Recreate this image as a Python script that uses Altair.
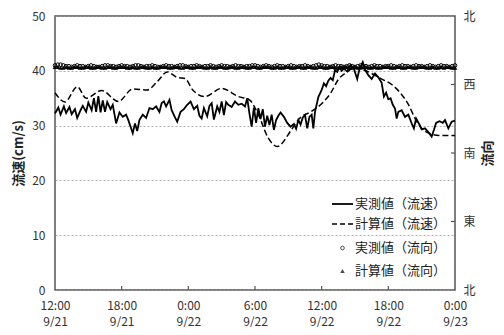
import json
import altair as alt
import pandas as pd

# ---------------- data ----------------
meas_hours = [0.0, 0.3, 0.5, 0.8, 1.0, 1.3, 1.5, 1.8, 2.0, 2.3, 2.5, 2.8, 3.0, 3.3, 3.5, 3.7, 3.9, 4.1, 4.3, 4.5,
              4.7, 5.0, 5.2, 5.5, 5.8, 6.1, 6.4, 6.6, 6.8, 7.0, 7.2, 7.4, 7.6, 7.9, 8.2, 8.5, 8.8, 9.1, 9.4, 9.6,
              9.8, 10.0, 10.3, 10.5, 10.8, 11.0, 11.3, 11.6, 11.9, 12.2, 12.5, 12.8, 13.0, 13.2, 13.4, 13.7, 13.9,
              14.1, 14.3, 14.6, 14.8, 15.0, 15.2, 15.4, 15.6, 15.9, 16.2, 16.5, 16.8, 17.1, 17.3, 17.5, 17.7, 17.9,
              18.1, 18.3, 18.5, 18.7, 18.9, 19.1, 19.3, 19.5, 19.7, 19.9, 20.1, 20.3, 20.6, 20.9, 21.2, 21.5, 21.7,
              21.9, 22.1, 22.3, 22.5, 22.7, 22.9, 23.1, 23.25, 23.4, 23.7, 24.0, 24.2, 24.4, 24.6, 24.8, 25.0, 25.2,
              25.4, 25.6, 25.8, 26.0, 26.3, 26.6, 26.9, 27.2, 27.4, 27.7, 27.9, 28.2, 28.5, 28.8, 29.1, 29.4, 29.6,
              29.8, 30.0, 30.2, 30.4, 30.6, 30.75, 30.9, 31.2, 31.5, 31.8, 32.1, 32.3, 32.5, 32.8, 33.0, 33.3, 33.6,
              33.9, 34.1, 34.3, 34.6, 34.9, 35.1, 35.4, 35.7, 36.0]
meas_speed = [32.2, 33.3, 32.0, 33.5, 32.3, 33.4, 32.1, 33.0, 31.4, 32.8, 33.6, 32.5, 34.2, 32.8, 35.0, 32.5, 35.4,
              32.4, 34.6, 32.5, 34.3, 33.0, 33.8, 30.4, 32.4, 31.6, 32.0, 31.0, 29.8, 28.6, 30.4, 29.0, 31.0, 32.0,
              31.4, 33.2, 33.0, 33.5, 32.5, 34.1, 34.4, 33.5, 34.7, 32.8, 31.5, 30.7, 32.5, 33.0, 33.8, 34.4, 33.0,
              33.6, 31.8, 31.3, 33.2, 31.7, 33.6, 34.1, 31.1, 33.5, 32.5, 34.4, 31.9, 34.3, 33.8, 33.4, 34.4, 33.8,
              34.0, 33.5, 35.0, 32.2, 29.8, 33.3, 30.5, 33.2, 31.2, 33.0, 29.8, 31.8, 30.1, 32.0, 29.2, 31.0, 31.8,
              32.4, 31.6, 30.5, 29.8, 30.3, 29.4, 31.0, 30.2, 31.5, 31.9, 29.5, 31.6, 32.0, 29.5, 32.5, 35.2, 36.5,
              37.7, 37.2, 38.2, 38.7, 38.3, 40.1, 39.8, 40.7, 40.0, 40.4, 39.9, 41.1, 40.4, 38.5, 40.3, 41.6, 40.2,
              39.2, 38.5, 39.5, 38.8, 37.8, 35.3, 36.0, 34.8, 35.0, 33.8, 33.1, 31.3, 32.5, 32.8, 31.6, 32.0, 30.4,
              29.5, 31.3, 30.2, 29.3, 29.5, 28.8, 28.0, 29.2, 30.5, 30.8, 30.5, 31.0, 29.5, 30.7, 30.9]

calc_hours = [0.0, 0.9, 2.0, 2.8, 4.2, 5.7, 7.0, 8.3, 9.2, 10.1, 11.0, 11.7, 12.4, 13.5, 15.0, 16.5, 17.5, 18.3,
              19.2, 20.0, 21.3, 22.0, 23.0, 24.0, 24.8, 25.5, 26.3, 27.0, 27.6, 29.5, 30.3, 31.1, 31.9, 32.4,
              33.0, 33.8, 34.6, 35.4, 36.0]
calc_speed = [36.0, 34.3, 37.1, 35.0, 36.4, 34.4, 36.7, 36.5, 38.0, 39.8, 38.8, 38.6, 36.5, 35.3, 36.8, 35.3, 34.7,
              32.0, 27.7, 26.2, 29.3, 31.3, 32.5, 34.0, 35.9, 38.4, 39.8, 40.6, 40.3, 38.4, 37.5, 35.9, 33.5, 31.3,
              29.5, 28.5, 28.2, 28.2, 28.2]

# directions every 15 minutes (degrees, 0 = north)
meas_dir = [295, 296, 296, 295, 294, 294, 293, 294, 295, 294,
            294, 293, 294, 295, 294, 293, 293, 294, 295, 295,
            294, 294, 293, 294, 295, 294, 294, 293, 294, 295,
            295, 294, 293, 294, 294, 295, 294, 293, 293, 294,
            295, 294, 294, 293, 294, 295, 295, 294, 293, 294,
            294, 295, 294, 293, 294, 294, 295, 294, 293, 294,
            295, 294, 294, 293, 294, 295, 294, 294, 293, 294,
            294, 295, 295, 294, 293, 294, 295, 294, 293, 294,
            295, 294, 294, 293, 294, 295, 294, 293, 294, 294,
            295, 294, 293, 294, 295, 296, 295, 294, 294, 293,
            294, 295, 294, 294, 293, 294, 295, 294, 293, 294,
            295, 294, 294, 293, 294, 295, 294, 294, 293, 294,
            294, 295, 294, 293, 294, 295, 294, 294, 293, 294,
            295, 294, 294, 293, 294, 295, 294, 293, 294, 295,
            294, 294, 293, 294, 295]
calc_dir = [293, 293, 292, 292, 293, 292, 292, 293, 293, 292,
            292, 293, 293, 292, 292, 293, 293, 292, 292, 293,
            293, 292, 292, 293, 293, 293, 292, 292, 293, 292,
            292, 293, 293, 292, 292, 293, 292, 292, 293, 293,
            293, 292, 292, 293, 293, 292, 292, 293, 293, 292,
            292, 293, 293, 293, 292, 292, 293, 292, 292, 293,
            293, 292, 292, 293, 293, 292, 292, 293, 293, 292,
            292, 293, 293, 292, 292, 293, 293, 293, 292, 292,
            293, 292, 292, 293, 293, 292, 292, 293, 293, 292,
            292, 293, 293, 292, 292, 293, 293, 292, 292, 293,
            293, 292, 292, 293, 293, 293, 292, 292, 293, 292,
            292, 293, 293, 292, 292, 293, 292, 292, 293, 293,
            293, 292, 292, 293, 293, 292, 292, 293, 293, 292,
            292, 293, 293, 293, 292, 292, 293, 292, 292, 293,
            292, 293, 293, 292, 292]
dir_hours = [i * 0.25 for i in range(len(meas_dir))]

tick_hours = [0, 6, 12, 18, 24, 30, 36]
tick_time = ["12:00", "18:00", "0:00", "6:00", "12:00", "18:00", "0:00"]
tick_date = ["9/21", "9/21", "9/22", "9/22", "9/22", "9/22", "9/23"]
speed_ticks = [0, 10, 20, 30, 40, 50]
dir_ticks = [0, 90, 180, 270, 360]
dir_labels = ["北", "東", "南", "西", "北"]
legend_labels = ["実測値（流速）", "計算値（流速）", "実測値（流向）", "計算値（流向）"]

FONT = "Noto Sans CJK JP"
W, H = 400, 274

df_meas = pd.DataFrame({"h": meas_hours, "v": meas_speed})
df_calc = pd.DataFrame({"h": calc_hours, "v": calc_speed})
df_mdir = pd.DataFrame({"h": dir_hours, "d": meas_dir})
df_cdir = pd.DataFrame({"h": dir_hours, "d": calc_dir})
df_xt = pd.DataFrame({"h": tick_hours[1:-1]})
df_dt = pd.DataFrame({"d": dir_ticks[1:-1]})
one = pd.DataFrame({"a": [0]})

x_label_expr = f"[{json.dumps(tick_time, ensure_ascii=False)}[datum.value/6], {json.dumps(tick_date, ensure_ascii=False)}[datum.value/6]]"
x_enc = alt.X("h:Q", scale=alt.Scale(domain=[0, 36], nice=False),
              axis=alt.Axis(values=tick_hours, labelExpr=x_label_expr, title=None, grid=False,
                            domain=False, ticks=False, labelPadding=10, labelLineHeight=16,
                            labelFontSize=12, labelFlush=False))
y_left = alt.Y("v:Q", scale=alt.Scale(domain=[0, 50], nice=False),
               axis=alt.Axis(values=speed_ticks, title="流速(cm/s)", grid=True, gridDash=[2, 2],
                             gridColor="#999", gridWidth=0.8, domain=False, ticks=False,
                             labelPadding=10, titlePadding=6, titleFontWeight="bold",
                             titleFontSize=13, titleAngle=270, labelFontSize=12))
y_right = alt.Y("d:Q", scale=alt.Scale(domain=[0, 360], nice=False),
                axis=alt.Axis(orient="right", values=dir_ticks,
                              labelExpr=f"{json.dumps(dir_labels, ensure_ascii=False)}[datum.value/90]",
                              title="流向", grid=False, domain=False, ticks=False, labelPadding=8,
                              titlePadding=6, titleFontWeight="bold", titleFontSize=13,
                              titleAngle=270, titleBaseline="top", labelFontSize=12))

line_meas = alt.Chart(df_meas).mark_line(color="black", strokeWidth=1.8).encode(x=x_enc, y=y_left)
line_calc = alt.Chart(df_calc).mark_line(color="black", strokeWidth=1.5, strokeDash=[6, 3],
                                         interpolate="monotone").encode(x=x_enc, y=y_left)
xticks = alt.Chart(df_xt).mark_rule(color="#555", strokeWidth=1.2).encode(
    x=x_enc, y=alt.value(H), y2=alt.value(H - 4))

# legend (manual)
lx0, lx1, ltx = 277, 298, 300
ly = [188, 208, 232, 255]
leg = []
leg.append(alt.Chart(one).mark_rule(color="black", strokeWidth=1.8).encode(
    x=alt.value(lx0), x2=alt.value(lx1), y=alt.value(ly[0])))
leg.append(alt.Chart(one).mark_rule(color="black", strokeWidth=1.5, strokeDash=[5, 3]).encode(
    x=alt.value(lx0), x2=alt.value(lx1), y=alt.value(ly[1])))
leg.append(alt.Chart(one).mark_point(shape="circle", filled=False, color="black", size=13, strokeWidth=1).encode(
    x=alt.value((lx0 + lx1) / 2), y=alt.value(ly[2])))
leg.append(alt.Chart(one).mark_point(shape="triangle-up", filled=True, color="black", size=20).encode(
    x=alt.value((lx0 + lx1) / 2), y=alt.value(ly[3])))
for lab, yy in zip(legend_labels, ly):
    leg.append(alt.Chart(one).mark_text(align="left", baseline="middle", font=FONT, fontSize=13,
                                        color="#222").encode(
        x=alt.value(ltx), y=alt.value(yy), text=alt.value(lab)))

left = alt.layer(line_calc, line_meas, xticks, *leg)

pts_meas = alt.Chart(df_mdir).mark_point(shape="circle", filled=False, color="black", size=14,
                                         strokeWidth=1, opacity=1).encode(x=x_enc, y=y_right)
pts_calc = alt.Chart(df_cdir).mark_point(shape="triangle-up", filled=True, color="black", size=22,
                                         opacity=1).encode(x=x_enc, y=y_right)
dticks = alt.Chart(df_dt).mark_rule(color="#555", strokeWidth=1.2).encode(
    y=y_right, x=alt.value(W), x2=alt.value(W - 4))
right = alt.layer(pts_calc, pts_meas, dticks)

chart = alt.layer(left, right).resolve_scale(y="independent").properties(
    width=W, height=H,
    autosize=alt.AutoSizeParams(type="none"),
    padding={"left": 47, "top": 8, "right": 41, "bottom": 37},
).configure_view(stroke="#555", strokeWidth=1.5).configure_axis(
    labelFont=FONT, titleFont=FONT, labelColor="#333", titleColor="#222"
)

chart.save("out.html", embed_options={"renderer": "svg", "actions": False})
